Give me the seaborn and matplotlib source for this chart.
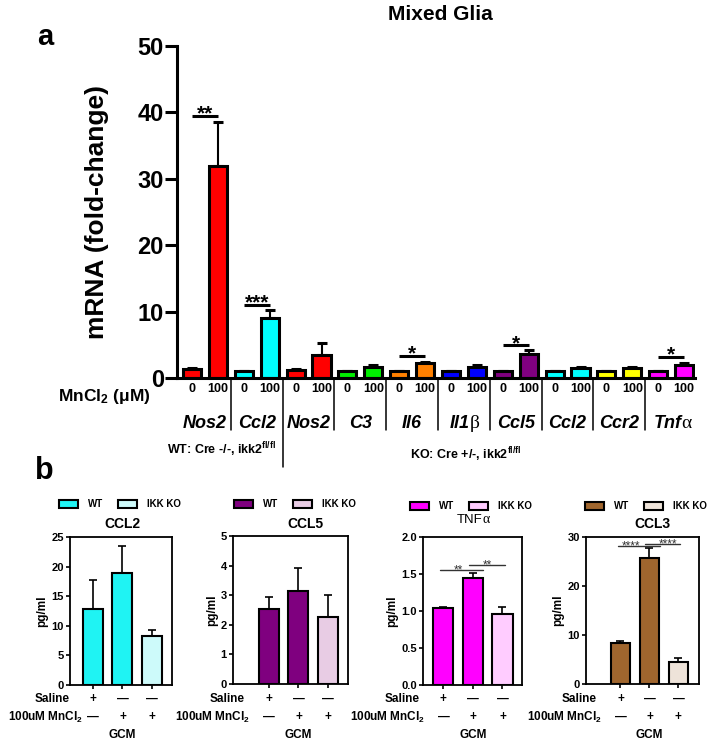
import matplotlib
matplotlib.use('Agg')
import numpy as np
import pandas as pd
import matplotlib.pyplot as plt
import matplotlib.transforms as mtransforms
from matplotlib.patches import Patch
from matplotlib.ticker import FormatStrFormatter
import seaborn as sns

# ---------------- data: panel a (Mixed Glia, mRNA fold-change) ----------------
genes = ['Nos2', 'Ccl2', 'Nos2', 'C3', 'Il6', 'Il1', 'Ccl5', 'Ccl2', 'Ccr2', 'Tnf']
gene_greek = ['', '', '', '', '', 'β', '', '', '', 'α']
doses = ['0', '100']
gene_colors = ['#ff0000', '#00ffff', '#ff0000', '#00ee00', '#ff8000',
               '#0000ff', '#800080', '#00ffff', '#ffff00', '#ff00ff']
mean_0 = [1.3, 1.0, 1.2, 1.0, 1.0, 1.0, 1.0, 1.0, 1.0, 1.0]
mean_100 = [32.0, 9.0, 3.4, 1.7, 2.2, 1.7, 3.6, 1.5, 1.5, 2.0]
err_0 = [0.15, 0.1, 0.15, 0.1, 0.1, 0.1, 0.1, 0.1, 0.1, 0.1]
err_100 = [6.5, 1.2, 1.8, 0.2, 0.2, 0.2, 0.6, 0.15, 0.15, 0.2]
sig_gene = [0, 1, 4, 6, 9]
sig_label = ['**', '***', '*', '*', '*']
sig_height = [39.4, 11.0, 3.3, 4.9, 3.1]
a_yticks = [0, 10, 20, 30, 40, 50]

# ---------------- data: panel b (GCM cytokines, pg/ml) ----------------
b_conditions = ['Saline WT', 'MnCl2 WT', 'MnCl2 KO']
saline_marks = ['+', '—', '—']
mncl_marks = ['—', '+', '+']
legend_labels = ['WT', 'IKK KO']

ccl2_mean = [12.8, 19.0, 8.2]
ccl2_err = [5.0, 4.4, 1.1]
ccl5_mean = [2.55, 3.13, 2.25]
ccl5_err = [0.39, 0.8, 0.75]
tnf_mean = [1.04, 1.44, 0.96]
tnf_err = [0.02, 0.08, 0.10]
ccl3_mean = [8.3, 25.8, 4.4]
ccl3_err = [0.5, 1.9, 1.0]

ccl2_colors = ['#1ff3f3', '#cdfafa']
ccl5_colors = ['#7f007f', '#e8cce4']
tnf_colors = ['#ff00ff', '#ffccff']
ccl3_colors = ['#a0662e', '#eee3d9']

ccl2_yticks = [0, 5, 10, 15, 20, 25]
ccl5_yticks = [0, 1, 2, 3, 4, 5]
tnf_yticks = [0.0, 0.5, 1.0, 1.5, 2.0]
ccl3_yticks = [0, 10, 20, 30]

tnf_sig = [(0, 1, '**', 1.55), (1, 2, '**', 1.62)]
ccl3_sig = [(0, 1, '****', 28.1), (1, 2, '****', 28.6)]

# ---------------- style ----------------
sns.set_theme(style='white')
plt.rcParams['font.family'] = ['Liberation Sans', 'DejaVu Sans']
plt.rcParams['font.weight'] = 'bold'
plt.rcParams['axes.labelweight'] = 'bold'
plt.rcParams['text.color'] = 'black'
plt.rcParams['axes.labelcolor'] = 'black'
plt.rcParams['xtick.color'] = 'black'
plt.rcParams['ytick.color'] = 'black'
plt.rcParams['axes.edgecolor'] = 'black'
plt.rcParams['mathtext.fontset'] = 'custom'
plt.rcParams['mathtext.rm'] = 'Liberation Sans:bold'
plt.rcParams['mathtext.bf'] = 'Liberation Sans:bold'
plt.rcParams['mathtext.it'] = 'Liberation Sans:bold:italic'
plt.rcParams['mathtext.default'] = 'rm'

W, H = 709, 741
fig = plt.figure(figsize=(W / 100, H / 100), dpi=100)


def fx(p):
    return p / W


def fy(p):
    return 1 - p / H


# ================= panel a =================
axA = fig.add_axes([fx(177), fy(378), fx(695) - fx(177), fy(46) - fy(378)])
bar_ids, vals, errs, cols, tick_labels = [], [], [], [], []
for g, gene in enumerate(genes):
    for d, dose in enumerate(doses):
        bar_ids.append(f'{g}-{dose}')
        vals.append([mean_0, mean_100][d][g])
        errs.append([err_0, err_100][d][g])
        cols.append(gene_colors[g])
        tick_labels.append(dose)
df_a = pd.DataFrame({'bar': bar_ids, 'value': vals})
palette_a = dict(zip(bar_ids, cols))
sns.barplot(data=df_a, x='bar', y='value', hue='bar', order=bar_ids, hue_order=bar_ids,
            palette=palette_a, legend=False, errorbar=None, saturation=1, width=0.7,
            edgecolor='black', linewidth=2.2, ax=axA)
xs = np.arange(len(bar_ids))
axA.errorbar(xs, vals, yerr=[np.zeros(len(vals)), errs], fmt='none', ecolor='black',
             elinewidth=1.5, capsize=3.5, capthick=2.2, zorder=0.5)
axA.set_xlim(-0.58, 19.42)
axA.set_ylim(0, 50)
axA.set_yticks(a_yticks)
axA.set_yticklabels([str(t) for t in a_yticks])
axA.set_xticks(xs)
axA.set_xticklabels(tick_labels)
axA.tick_params(axis='y', length=8.5, width=2.2, labelsize=17, pad=1, direction='out', left=True, color='black')
axA.tick_params(axis='x', length=0, labelsize=9, pad=3.5)
axA.set_xlabel('')
axA.set_ylabel('')
for s in ['top', 'right']:
    axA.spines[s].set_visible(False)
for s in ['left', 'bottom']:
    axA.spines[s].set_linewidth(2.2)
    axA.spines[s].set_color('black')

transA = mtransforms.blended_transform_factory(axA.transData, fig.transFigure)
# gene labels
for g, gene in enumerate(genes):
    xc = 2 * g + 0.5
    if gene_greek[g]:
        t = axA.text(xc - 0.15, fy(432), gene, transform=transA, ha='center', va='bottom',
                     fontsize=13, style='italic', fontweight='bold')
        axA.annotate(gene_greek[g], xy=(1, 0), xycoords=t, ha='left', va='bottom',
                     fontsize=14, fontweight='normal', family='Liberation Serif')
    else:
        axA.text(xc, fy(432), gene, transform=transA, ha='center', va='bottom',
                 fontsize=13, style='italic', fontweight='bold')
# separators
for k in range(len(genes) - 1):
    xsep = 2 * k + 1.5
    ybot = 467 if k == 1 else 430
    axA.plot([xsep, xsep], [fy(379), fy(ybot)], transform=transA, color='black',
             lw=1.1, clip_on=False)
# significance
for g, lab, h in zip(sig_gene, sig_label, sig_height):
    x0, x1 = 2 * g, 2 * g + 1
    axA.plot([x0, x1], [h, h], color='black', lw=2.2, clip_on=False, solid_capstyle='butt')
    axA.annotate(lab, xy=((x0 + x1) / 2, h), xytext=(0, -2.5), textcoords='offset points',
                 ha='center', va='baseline', fontsize=15, fontweight='bold')

fig.text(fx(151), fy(397), 'MnCl$_2$ (μM)', ha='right', va='center', fontsize=12.5)
fig.text(fx(276), fy(450), 'WT: Cre -/-, ikk2$^{fl/fl}$', ha='right', va='center', fontsize=9)
fig.text(fx(466), fy(455), 'KO: Cre +/-, ikk2$^{fl/fl}$', ha='center', va='center', fontsize=9)
fig.text(fx(440), fy(15), 'Mixed Glia', ha='center', va='center', fontsize=15)
fig.text(fx(45), fy(37), 'a', ha='center', va='center', fontsize=21)
fig.text(fx(44), fy(471), 'b', ha='center', va='center', fontsize=22)
fig.text(fx(97), fy(212), 'mRNA (fold-change)', rotation=90, ha='center', va='center', fontsize=19)


# ================= panel b =================
def panel_b(left, right, top, bottom, xlim, title, greek, title_bold, title_x, title_y,
            means, errs, colors, yticks, fmt, legend_x, legend_y, saline_x, mncl_x,
            sigs, star_x):
    ax = fig.add_axes([fx(left), fy(bottom), fx(right) - fx(left), fy(top) - fy(bottom)])
    df = pd.DataFrame({'cond': b_conditions, 'value': means})
    pal = {b_conditions[0]: colors[0], b_conditions[1]: colors[0], b_conditions[2]: colors[1]}
    sns.barplot(data=df, x='cond', y='value', hue='cond', order=b_conditions,
                hue_order=b_conditions, palette=pal, legend=False, errorbar=None,
                saturation=1, width=0.68, edgecolor='black', linewidth=1.5, ax=ax)
    bx = np.arange(len(b_conditions))
    ax.errorbar(bx, means, yerr=[np.zeros(len(means)), errs], fmt='none', ecolor='black',
                elinewidth=1.2, capsize=3, capthick=1.2, zorder=0.5)
    ax.set_xlim(*xlim)
    ax.set_ylim(yticks[0], yticks[-1])
    ax.set_yticks(yticks)
    ax.yaxis.set_major_formatter(FormatStrFormatter(fmt))
    ax.set_xticks(bx)
    ax.set_xticklabels(['', '', ''])
    ax.tick_params(axis='both', length=3, width=1.2, labelsize=8, pad=1.5, direction='out',
                   left=True, bottom=True, color='black')
    ax.set_xlabel('')
    ax.set_ylabel('pg/ml', fontsize=8.5, labelpad=2)
    for s in ax.spines.values():
        s.set_visible(True)
        s.set_linewidth(1.3)
        s.set_color('black')
    tr = mtransforms.blended_transform_factory(ax.transData, fig.transFigure)
    for i in range(len(b_conditions)):
        ax.text(i, fy(699), saline_marks[i], transform=tr, ha='center', va='center', fontsize=8.5)
        ax.text(i, fy(717), mncl_marks[i], transform=tr, ha='center', va='center', fontsize=8.5)
    fig.text(fx(saline_x), fy(699), 'Saline', ha='right', va='center', fontsize=8.5)
    fig.text(fx(mncl_x), fy(717), '100uM MnCl$_2$', ha='right', va='center', fontsize=8.5)
    ax.text(1, fy(735), 'GCM', transform=tr, ha='center', va='center', fontsize=8.5)
    # title
    if greek:
        t = fig.text(fx(title_x), fy(title_y), title, ha='center', va='center', fontsize=9.5,
                     fontweight='bold' if title_bold else 'normal')
        ax.annotate(greek, xy=(1, 0), xycoords=t, ha='left', va='bottom', fontsize=10,
                    fontweight='normal', family='Liberation Serif', annotation_clip=False)
    else:
        fig.text(fx(title_x), fy(title_y), title, ha='center', va='center', fontsize=10,
                 fontweight='bold' if title_bold else 'normal')
    # legend
    handles = [Patch(facecolor=colors[0], edgecolor='black', linewidth=1.5, label=legend_labels[0]),
               Patch(facecolor=colors[1], edgecolor='black', linewidth=1.5, label=legend_labels[1])]
    ax.legend(handles=handles, loc='center', bbox_to_anchor=(fx(legend_x), fy(legend_y)),
              bbox_transform=fig.transFigure, ncol=2, frameon=False,
              prop={'weight': 'bold', 'size': 7}, handlelength=2.0, handleheight=0.85,
              handletextpad=1.0, columnspacing=1.5, borderaxespad=0, borderpad=0)
    # significance
    for k, (i0, i1, lab, h) in enumerate(sigs):
        xa, xb = (i0 - 0.1, i1 + 0.35) if k == 0 else (i0 - 0.15, i1 + 0.07)
        ax.plot([xa, xb], [h, h], color='#333333', lw=1.0, clip_on=False)
        ax.annotate(lab, xy=(star_x[k], h), xytext=(0, -2.5),
                    textcoords='offset points', ha='center', va='baseline',
                    fontsize=8.5, fontweight='normal', color='#333333')
    return ax


panel_b(70, 172, 537, 685, (-0.78, 2.68), 'CCL2', '', True, 122, 524,
        ccl2_mean, ccl2_err, ccl2_colors, ccl2_yticks, '%d', 120, 504, 70, 83, [], [])
panel_b(233, 348, 536, 684, (-1.22, 2.68), 'CCL5', '', True, 305, 524,
        ccl5_mean, ccl5_err, ccl5_colors, ccl5_yticks, '%d', 295, 504, 245, 250, [], [])
panel_b(423, 522, 537, 685, (-0.69, 2.66), 'TNF', 'α', False, 470, 520,
        tnf_mean, tnf_err, tnf_colors, tnf_yticks, '%.1f', 471, 506, 420, 425, tnf_sig,
        [0.5, 1.5])
panel_b(586, 699, 537, 684, (-1.19, 2.71), 'CCL3', '', True, 652, 524,
        ccl3_mean, ccl3_err, ccl3_colors, ccl3_yticks, '%d', 646, 506, 597, 602, ccl3_sig,
        [0.35, 1.65])

fig.savefig('out.png', dpi=100)
